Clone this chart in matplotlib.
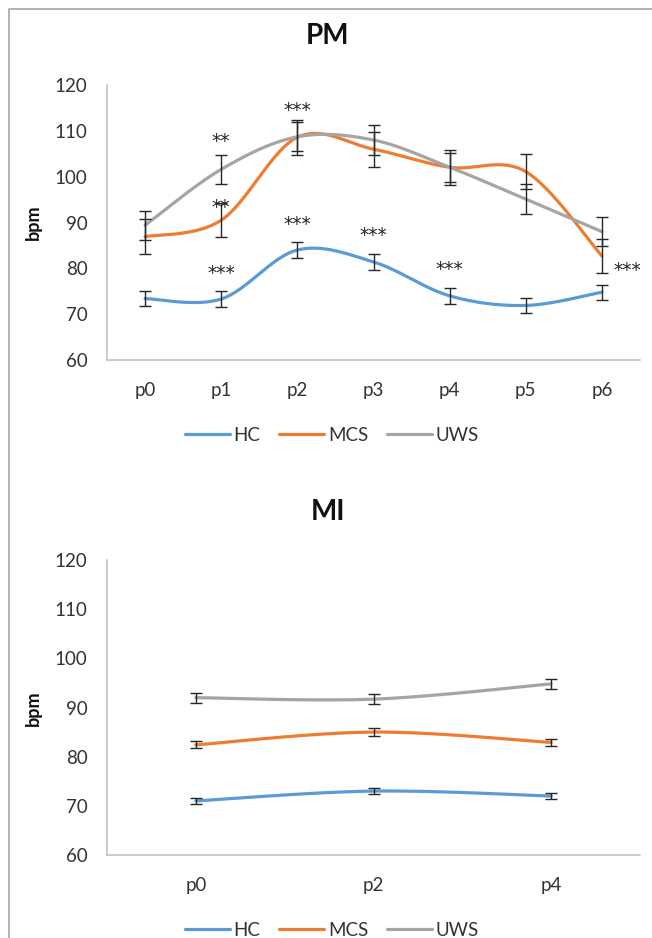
import numpy as np
import matplotlib
matplotlib.use("Agg")
import matplotlib.pyplot as plt
from matplotlib.lines import Line2D

plt.rcParams['font.family'] = ['Lato', 'DejaVu Sans']

# ---------------- data ----------------
pm_cats = ["p0", "p1", "p2", "p3", "p4", "p5", "p6"]
pm_hc = [73.4, 73.3, 84.0, 81.4, 74.0, 71.9, 74.8]
pm_hc_err = [1.7, 1.7, 1.65, 1.75, 1.7, 1.7, 1.65]
pm_mcs = [86.9, 90.5, 108.6, 106.0, 102.05, 101.1, 82.7]
pm_mcs_err = [3.85, 3.75, 3.8, 3.8, 3.8, 3.8, 3.8]
pm_uws = [89.4, 101.6, 108.7, 108.0, 102.05, 95.1, 88.0]
pm_uws_err = [3.15, 3.15, 3.2, 3.2, 3.2, 3.2, 3.2]

# significance annotations (category position, value, text)
pm_sig_x = [1, 1, 2, 2, 1, 3, 4, 6.34]
pm_sig_y = [108.9, 94.5, 115.6, 90.9, 80.2, 88.4, 80.9, 80.7]
pm_sig_txt = ["**", "**", "***", "***", "***", "***", "***", "***"]

mi_cats = ["p0", "p2", "p4"]
mi_hc = [71.0, 73.0, 72.0]
mi_hc_err = [0.6, 0.55, 0.6]
mi_mcs = [82.4, 85.0, 82.9]
mi_mcs_err = [0.7, 0.8, 0.75]
mi_uws = [92.0, 91.7, 94.8]
mi_uws_err = [1.0, 1.0, 1.05]

series_names = ["HC", "MCS", "UWS"]
colors = ["#5B9BD5", "#ED7D31", "#A5A5A5"]
yticks = [60, 70, 80, 90, 100, 110, 120]


def smooth(y, n=40):
    """Excel-style smoothed line (Catmull-Rom Bezier) through category points."""
    pts = np.column_stack([np.arange(len(y), dtype=float), np.asarray(y, float)])
    out = []
    m = len(pts)
    t = np.linspace(0, 1, n)[:, None]
    for i in range(m - 1):
        p0 = pts[i - 1] if i > 0 else pts[i]
        p1 = pts[i]
        p2 = pts[i + 1]
        p3 = pts[i + 2] if i + 2 < m else pts[i + 1]
        c1 = p1 + (p2 - p0) / 6.0
        c2 = p2 - (p3 - p1) / 6.0
        seg = ((1 - t) ** 3) * p1 + 3 * ((1 - t) ** 2) * t * c1 + 3 * (1 - t) * t ** 2 * c2 + t ** 3 * p2
        out.append(seg if i == 0 else seg[1:])
    s = np.vstack(out)
    return s[:, 0], s[:, 1]


W, H = 652, 938
fig = plt.figure(figsize=(W / 100, H / 100), dpi=100)


def style_axes(ax, cats):
    ax.set_xlim(-0.5, len(cats) - 0.5)
    ax.set_ylim(60, 120)
    ax.set_yticks(yticks)
    ax.set_xticks(range(len(cats)))
    ax.set_xticklabels(cats)
    for s in ["top", "right"]:
        ax.spines[s].set_visible(False)
    for s in ["left", "bottom"]:
        ax.spines[s].set_color("#BFBFBF")
        ax.spines[s].set_linewidth(1.1)
    ax.tick_params(axis="both", length=0, labelsize=13.5, labelcolor="#333333")
    ax.tick_params(axis="y", pad=14)
    ax.tick_params(axis="x", pad=16)
    ax.patch.set_alpha(0)


def draw(ax, data, errs):
    handles = []
    for y, e, c, name in zip(data, errs, colors, series_names):
        xs, ys = smooth(y)
        h, = ax.plot(xs, ys, color=c, lw=2.3, solid_capstyle="round", label=name, zorder=2)
        handles.append(h)
    for y, e in zip(data, errs):
        ax.errorbar(range(len(y)), y, yerr=e, fmt="none", ecolor="#262626",
                    elinewidth=1.0, capsize=4, capthick=1.0, zorder=3)
    return handles


# PM panel
ax1 = fig.add_axes([107 / W, 1 - 360 / H, 533 / W, 275 / H])
style_axes(ax1, pm_cats)
h1 = draw(ax1, [pm_hc, pm_mcs, pm_uws], [pm_hc_err, pm_mcs_err, pm_uws_err])
fs_sig = 13.5
for x, y, t in zip(pm_sig_x, pm_sig_y, pm_sig_txt):
    ax1.annotate(t, xy=(x, y), xytext=(0, -0.6 * fs_sig), textcoords="offset points",
                 ha="center", va="baseline", fontsize=fs_sig, color="#222222",
                 family=["DejaVu Sans"], annotation_clip=False)

# MI panel
ax2 = fig.add_axes([107 / W, 1 - 855 / H, 533 / W, 295 / H])
style_axes(ax2, mi_cats)
h2 = draw(ax2, [mi_hc, mi_mcs, mi_uws], [mi_hc_err, mi_mcs_err, mi_uws_err])

# titles and axis labels
fig.text(328 / W, 1 - 36 / H, "PM", ha="center", va="center", fontsize=20, fontweight="bold", color="#111111")
fig.text(328 / W, 1 - 512 / H, "MI", ha="center", va="center", fontsize=20, fontweight="bold", color="#111111")
fig.text(33 / W, 1 - 222 / H, "bpm", ha="center", va="center", rotation=90, fontsize=13, fontweight="bold", color="#111111")
fig.text(33 / W, 1 - 708 / H, "bpm", ha="center", va="center", rotation=90, fontsize=13, fontweight="bold", color="#111111")

# legends
for hs, yc in [(h1, 435), (h2, 930)]:
    fig.legend(handles=hs, labels=series_names, loc="center", bbox_to_anchor=(332 / W, 1 - yc / H),
               ncol=3, frameon=False, fontsize=13.5, handlelength=2.4, handletextpad=0.2,
               columnspacing=1.0, labelcolor="#333333")

# outer chart border (top and left edges)
fig.add_artist(Line2D([9 / W, 9 / W, 1.0], [0.0, 1 - 9 / H, 1 - 9 / H], transform=fig.transFigure,
                      color="#A6A6A6", lw=1.2))

fig.savefig("out.png", dpi=100)
